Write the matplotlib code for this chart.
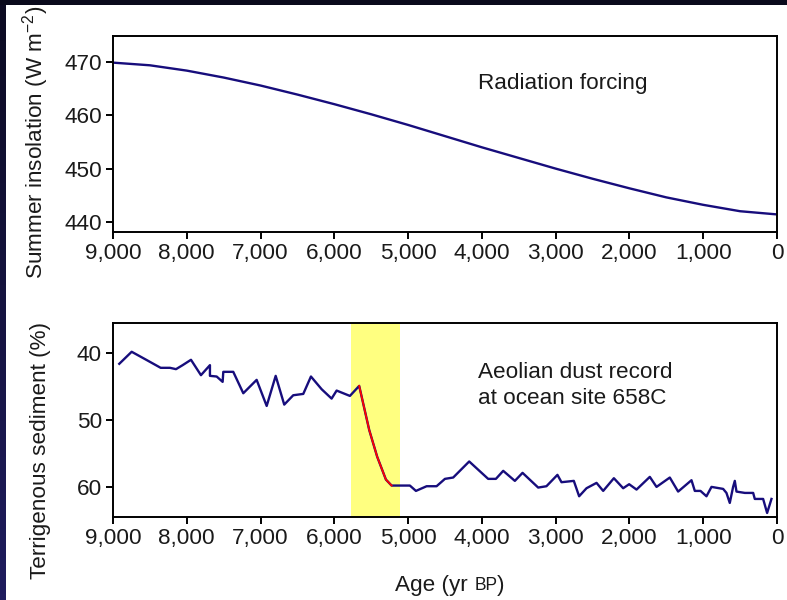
import numpy as np
import matplotlib
matplotlib.use("Agg")
import matplotlib.pyplot as plt
from matplotlib.patches import Rectangle
from matplotlib.offsetbox import TextArea, HPacker, AnchoredOffsetbox

plt.rcParams['font.family'] = ['Liberation Sans', 'DejaVu Sans']
plt.rcParams['mathtext.fontset'] = 'custom'
plt.rcParams['mathtext.rm'] = 'Liberation Sans'
plt.rcParams['mathtext.it'] = 'Liberation Sans:italic'

# x axis (years BP)
x_ticks = [9000, 8000, 7000, 6000, 5000, 4000, 3000, 2000, 1000, 0]
x_labels = ["9,000", "8,000", "7,000", "6,000", "5,000", "4,000", "3,000", "2,000", "1,000", "0"]

# summer insolation (W m-2)
age_ins = [9000, 8500, 8000, 7500, 7000, 6500, 6000, 5500, 5000, 4500,
           4000, 3500, 3000, 2500, 2000, 1500, 1000, 500, 0]
insolation = [469.9, 469.4, 468.4, 467.1, 465.6, 463.9, 462.1, 460.2, 458.2, 456.1,
              454.0, 452.0, 450.0, 448.1, 446.3, 444.6, 443.2, 442.0, 441.4]
ins_ticks = [440, 450, 460, 470]

# terrigenous sediment (%) at site 658C
age_dust = [8915, 8747, 8566, 8354, 8228, 8146, 8056, 7943, 7808, 7686, 7686, 7595,
            7514, 7505, 7370, 7234, 7053, 6917, 6795, 6679, 6557, 6421, 6317, 6172,
            6037, 5969, 5789, 5663, 5527, 5419, 5301, 5224, 4976, 4894, 4749, 4614,
            4501, 4389, 4172, 3915, 3810, 3711, 3553, 3449, 3237, 3125, 2976, 2921,
            2754, 2682, 2582, 2446, 2356, 2211, 2085, 2004, 1904, 1724, 1633, 1453,
            1340, 1159, 1114, 1037, 956, 888, 730, 685, 640, 595, 572, 549,
            436, 323, 301, 188, 134, 75]
dust = [41.6, 39.8, 40.9, 42.2, 42.2, 42.4, 41.8, 41.0, 43.3, 41.8, 43.4, 43.5,
        44.3, 42.8, 42.8, 46.0, 44.0, 47.9, 43.4, 47.7, 46.3, 46.1, 43.5, 45.4,
        46.8, 45.6, 46.4, 44.9, 51.5, 55.5, 58.9, 59.8, 59.8, 60.6, 59.9, 59.9,
        58.8, 58.6, 56.2, 58.8, 58.8, 57.6, 59.1, 57.9, 60.1, 59.9, 58.2, 59.3,
        59.1, 61.4, 60.2, 59.4, 60.6, 58.7, 60.2, 59.6, 60.4, 58.5, 60.0, 58.6,
        60.7, 59.0, 60.6, 60.6, 61.4, 60.0, 60.3, 60.9, 62.4, 60.0, 59.1, 60.7,
        60.9, 60.9, 61.8, 61.8, 63.9, 61.8]
dust_ticks = [40, 50, 60]
drop_start, drop_end = 5663, 5224
band = (5770, 5110)

blue = '#170d7c'
txt = '#1a1a1a'
fs = 16.2

fig = plt.figure(figsize=(7.87, 6.0), dpi=100)
fig.patch.set_facecolor('#0a0a1c')
fig.patches.append(Rectangle((6 / 787, 0), 1, 1 - 5 / 600, transform=fig.transFigure,
                             facecolor='white', edgecolor='none', zorder=-10))
# left dark strip with a slight gradient
gax = fig.add_axes([0, 0, 6 / 787, 1 - 5 / 600])
gax.imshow(np.linspace(0, 1, 100).reshape(-1, 1), aspect='auto', origin='upper',
           cmap=matplotlib.colors.LinearSegmentedColormap.from_list('g', ['#0c0b22', '#1f1c5e']))
gax.axis('off')

ax1 = fig.add_axes([113 / 787, 1 - 232 / 600, 664 / 787, 196 / 600])
ax2 = fig.add_axes([113 / 787, 1 - 517 / 600, 664 / 787, 194 / 600])

ax1.plot(age_ins, insolation, color=blue, lw=1.7)
ax1.set_ylim(438.1, 474.9)
ax1.set_yticks(ins_ticks)
ax1.set_ylabel("Summer insolation (W m$^{-2}$)", fontsize=fs, color=txt)
ax1.yaxis.set_label_coords(-0.094, 0.455)
fig.text(478 / 787, 1 - 83 / 600, "Radiation forcing", fontsize=fs, color=txt,
         ha='left', va='center')

a = np.array(age_dust)
d = np.array(dust)
m = (a <= drop_start) & (a >= drop_end)
ax2.axvspan(band[0], band[1], color='#ffff80', lw=0, zorder=0)
ax2.plot(a, d, color=blue, lw=1.7, zorder=2)
ax2.plot(a[m], d[m], color='#ff0000', lw=1.3, zorder=3)
ax2.set_ylim(64.5, 35.5)
ax2.set_yticks(dust_ticks)
ax2.set_ylabel("Terrigenous sediment (%)", fontsize=fs, color=txt)
ax2.yaxis.set_label_coords(-0.094, 0.345)

fig.text(478 / 787, 1 - 372 / 600, "Aeolian dust record", fontsize=fs,
         color=txt, ha='left', va='center')
fig.text(478 / 787, 1 - 399 / 600, "at ocean site 658C", fontsize=fs,
         color=txt, ha='left', va='center')

for ax in (ax1, ax2):
    ax.set_xlim(9000, 0)
    ax.set_xticks(x_ticks)
    ax.set_xticklabels(x_labels)
    for s in ax.spines.values():
        s.set_linewidth(1.4)
        s.set_color('black')
    ax.tick_params(direction='out', length=5, width=1.4, labelsize=fs,
                   labelcolor=txt, pad=3)

# x label with small-caps style "BP"
parts = [TextArea("Age (yr ", textprops=dict(size=fs, color=txt)),
         TextArea("BP", textprops=dict(size=fs * 0.78, color=txt)),
         TextArea(")", textprops=dict(size=fs, color=txt))]
box = HPacker(children=parts, align='baseline', pad=0, sep=0)
anch = AnchoredOffsetbox(loc='center', child=box, frameon=False, pad=0, borderpad=0,
                         bbox_to_anchor=(450 / 787, 1 - 585 / 600),
                         bbox_transform=fig.transFigure)
fig.add_artist(anch)

fig.savefig("out.png", dpi=100, facecolor=fig.get_facecolor())
